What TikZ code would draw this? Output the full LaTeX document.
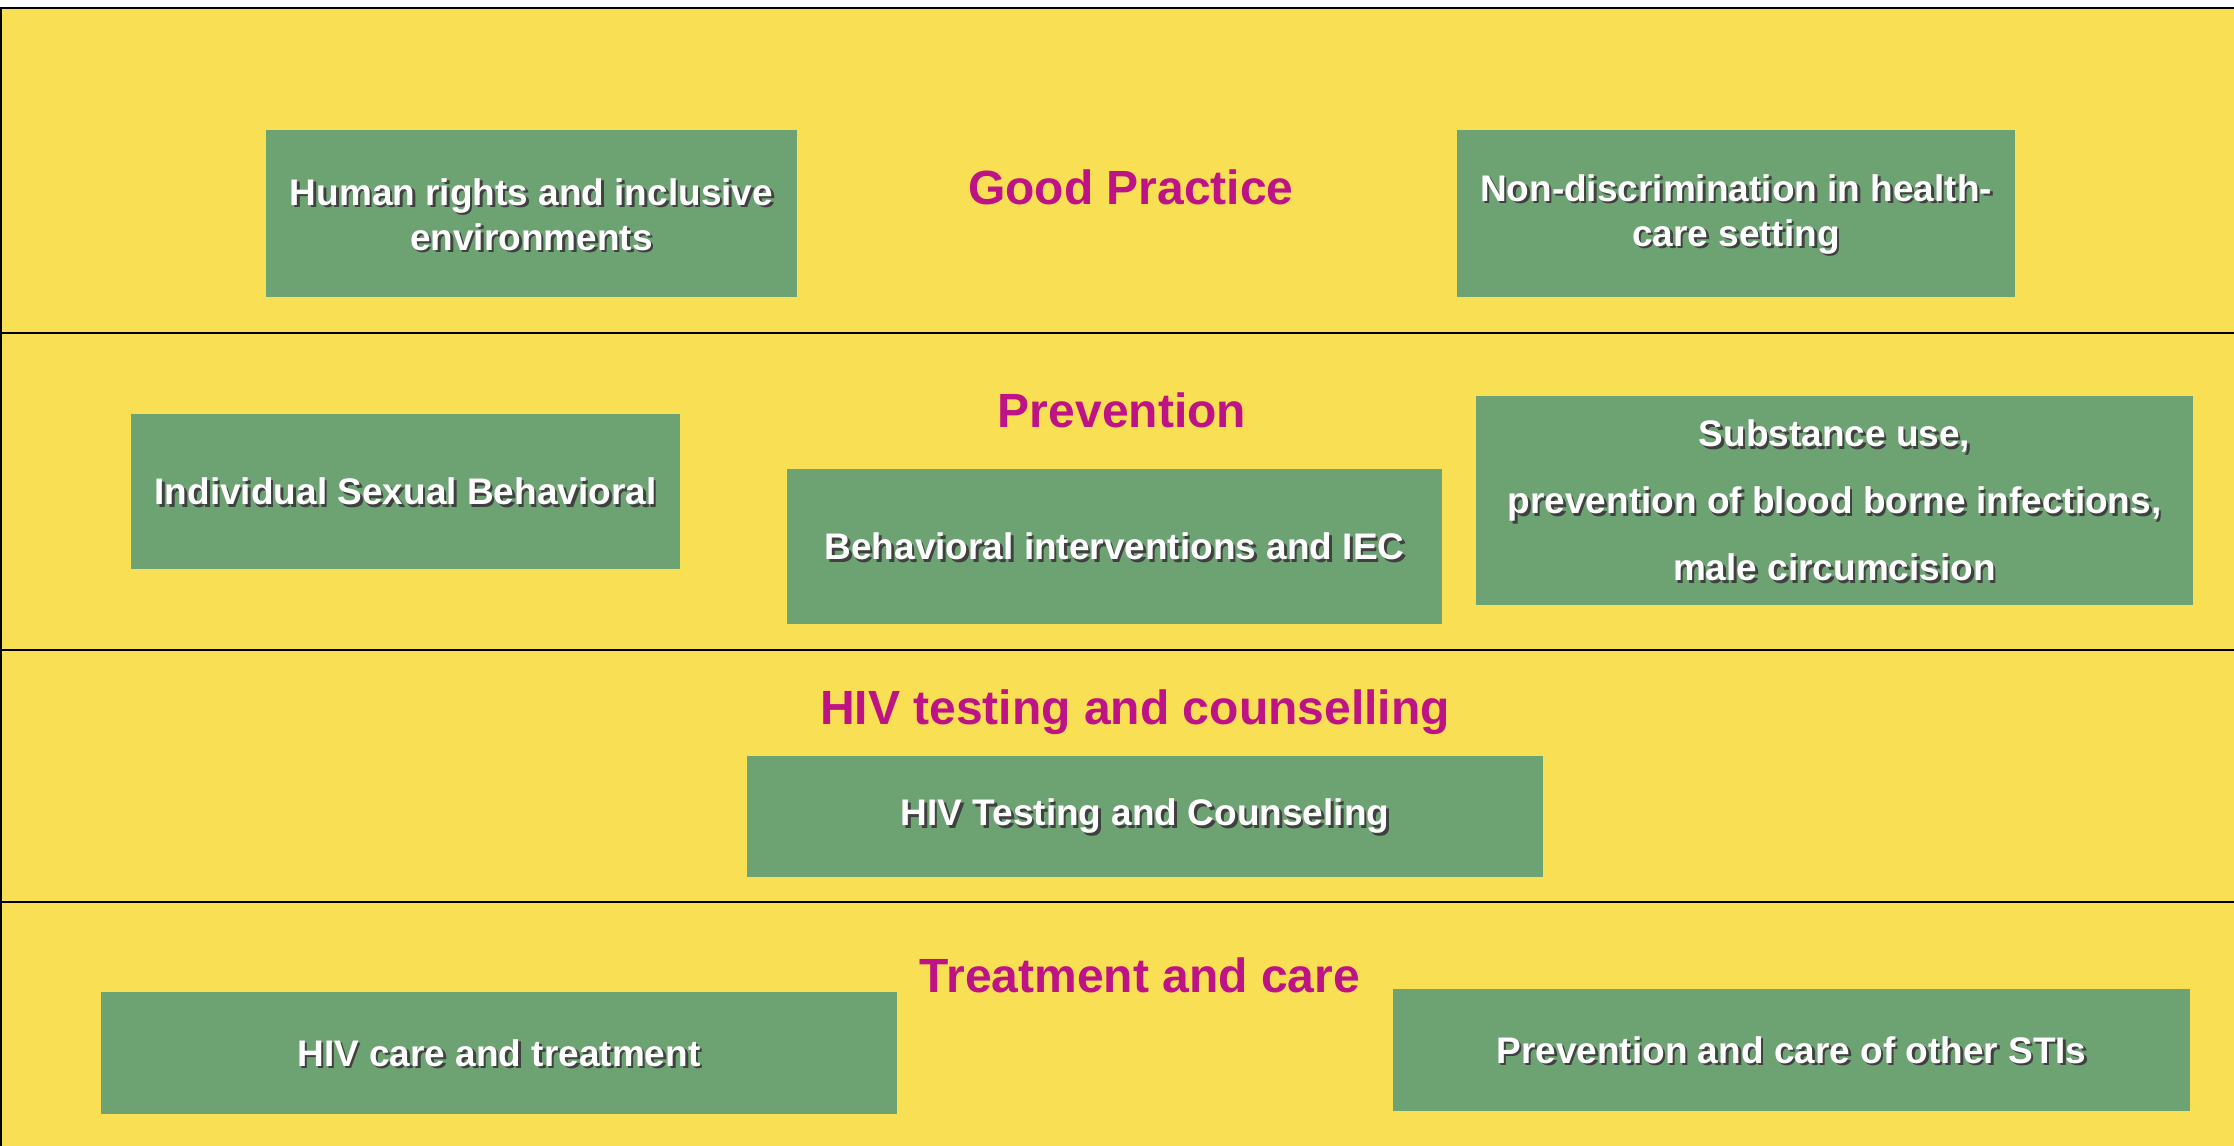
\documentclass[tikz,border=0pt]{standalone}
\usepackage{fontspec}
\setmainfont{Liberation Sans}
\definecolor{bandyellow}{HTML}{F9DF54}
\definecolor{boxgreen}{HTML}{6DA373}
\definecolor{titlemag}{HTML}{BE1287}
\begin{document}
\begin{tikzpicture}[x=0.5pt,y=-0.5pt,
  box/.style={fill=boxgreen,inner sep=0pt},
  boxtext/.style={text=white,font=\bfseries\fontsize{18.5}{22.5}\selectfont,align=center,inner sep=0pt},
  boxshade/.style={boxtext,text=black!75},
  title/.style={text=titlemag,font=\bfseries\fontsize{24}{28}\selectfont,inner sep=0pt},
  band/.style={line width=1.3pt}]%bands
\useasboundingbox (0,0) rectangle (2234,1146);
\fill[bandyellow] (0,8) rectangle (2234,1146);
\draw[band] (0,8) -- (2234,8);
\draw[band] (0.6,8) -- (0.6,1146);
\draw[band] (0,333) -- (2234,333);
\draw[band] (0,650) -- (2234,650);
\draw[band] (0,902) -- (2234,902);
% titles
\node[title] (t-gp) at (1131,187) {Good Practice};
\node[title] (t-pv) at (1122,410) {Prevention};
\node[title] (t-tc) at (1135,712) {HIV testing and counselling};
\node[title] (t-tr) at (1140,975) {Treatment and care};
% boxes
\node[box,minimum width=265.5pt,minimum height=83.5pt] (hr) at (531.5,213.5) {};
\node[box,minimum width=279pt,minimum height=83.5pt] (nd) at (1736,213.5) {};
\node[box,minimum width=274.5pt,minimum height=77.5pt] (isb) at (405.5,491.5) {};
\node[box,minimum width=327.5pt,minimum height=77.5pt] (bi) at (1114.5,546.5) {};
\node[box,minimum width=358.5pt,minimum height=104.5pt] (su) at (1834.5,500.5) {};
\node[box,minimum width=398pt,minimum height=60.5pt] (htc) at (1145,816.5) {};
\node[box,minimum width=398pt,minimum height=61pt] (hct) at (499,1053) {};
\node[box,minimum width=398.5pt,minimum height=61pt] (sti) at (1791.5,1050) {};
% texts with shadow
\node[boxshade] (hr-s) at ([shift={(2.5,3.5)}]hr.center) {Human rights and inclusive\\environments};
\node[boxtext] (hr-t) at ([shift={(0,1)}]hr.center) {Human rights and inclusive\\environments};
\node[boxshade] (nd-s) at ([shift={(2.5,3.5)}]nd.center) {Non-discrimination in health-\\care setting};
\node[boxtext] (nd-t) at ([shift={(0,1)}]nd.center) {Non-discrimination in health-\\care setting};
\node[boxshade] (isb-s) at ([shift={(2.5,2.5)}]isb.center) {Individual Sexual Behavioral};
\node[boxtext] (isb-t) at (isb.center) {Individual Sexual Behavioral};
\node[boxshade] (bi-s) at ([shift={(2.5,2.5)}]bi.center) {Behavioral interventions and IEC};
\node[boxtext] (bi-t) at (bi.center) {Behavioral interventions and IEC};
\node[boxshade,font=\bfseries\fontsize{18.5}{33.5}\selectfont] (su-s) at ([shift={(2.5,2.5)}]su.center) {Substance use,\\prevention of blood borne infections,\\male circumcision};
\node[boxtext,font=\bfseries\fontsize{18.5}{33.5}\selectfont] (su-t) at (su.center) {Substance use,\\prevention of blood borne infections,\\male circumcision};
\node[boxshade] (htc-s) at ([shift={(2.5,2.5)}]htc.center) {HIV Testing and Counseling};
\node[boxtext] (htc-t) at (htc.center) {HIV Testing and Counseling};
\node[boxshade] (hct-s) at ([shift={(2.5,2.5)}]hct.center) {HIV care and treatment};
\node[boxtext] (hct-t) at (hct.center) {HIV care and treatment};
\node[boxshade] (sti-s) at ([shift={(2.5,2.5)}]sti.center) {Prevention and care of other STIs};
\node[boxtext] (sti-t) at (sti.center) {Prevention and care of other STIs};
\end{tikzpicture}
\end{document}
